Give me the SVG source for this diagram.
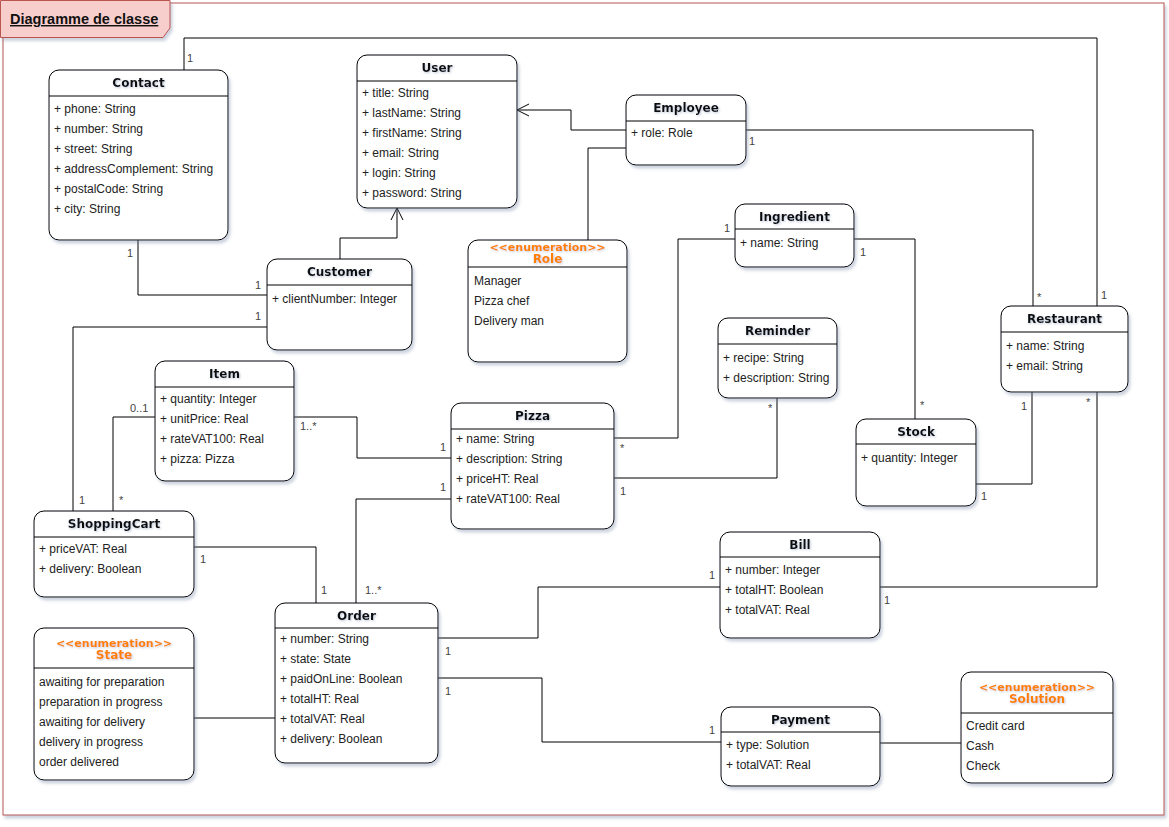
<svg xmlns="http://www.w3.org/2000/svg" width="1169" height="827" viewBox="0 0 1169 827">
<style>
.box{fill:#fff;stroke:#000;stroke-width:1}
.hl{stroke:#000;stroke-width:1}
.hd{font-family:"DejaVu Sans",Verdana,sans-serif;font-weight:bold;font-size:12px;text-anchor:middle;fill:#111}
.at{font-family:"Liberation Sans",Arial,sans-serif;font-size:12px;fill:#222}
.st{font-family:"DejaVu Sans",Verdana,sans-serif;font-weight:bold;font-size:11px;text-anchor:middle;fill:#FF8000}
.sn{font-family:"DejaVu Sans",Verdana,sans-serif;font-weight:bold;font-size:12px;text-anchor:middle;fill:#FF8000}
.lb{font-family:"Liberation Sans",Arial,sans-serif;font-size:11px;fill:#444}
.cn{fill:none;stroke:#000;stroke-width:1}
</style>
<defs>
<filter id="sh" x="-10%" y="-10%" width="130%" height="130%">
<feDropShadow dx="2" dy="3" stdDeviation="1.5" flood-color="#6f7f9f" flood-opacity="0.35"/>
</filter>
<filter id="tg" x="-10%" y="-30%" width="120%" height="160%">
<feDropShadow dx="1" dy="1" stdDeviation="1.2" flood-color="#8090b0" flood-opacity="0.5"/>
</filter>
<marker id="oa" viewBox="0 0 14 14" refX="13" refY="7" markerWidth="14" markerHeight="14" markerUnits="userSpaceOnUse" orient="auto">
<path d="M1,1 L13,7 L1,13" fill="none" stroke="#000" stroke-width="1"/>
</marker>
</defs>
<rect x="0" y="0" width="1169" height="827" fill="#fff"/>
<g id="frame">
<rect x="3" y="3" width="1161" height="812" fill="#fff" stroke="#b85450" stroke-width="1" filter="url(#sh)"/>
<path d="M0.5,0.5 H170 V28 L163,37.5 H0.5 Z" fill="#f8cecc" stroke="#b85450" stroke-width="1" filter="url(#sh)"/>
<text x="10" y="24" font-family="Liberation Sans,Arial,sans-serif" font-weight="bold" font-size="14.5" text-decoration="underline" fill="#111">Diagramme de classe</text>
</g>
<g id="connectors">
<path class="cn" d="M184,70 V38 H1097 V306"/>
<text class="lb" x="187" y="62">1</text>
<text class="lb" x="1101" y="299">1</text>
<path class="cn" d="M138,240 V295 H267"/>
<text class="lb" x="127" y="257">1</text>
<text class="lb" x="255" y="289">1</text>
<path class="cn" d="M340,259 V238 H397 V208" marker-end="url(#oa)"/>
<path class="cn" d="M626,130 H571 V110 H517" marker-end="url(#oa)"/>
<path class="cn" d="M626,148 H588 V240"/>
<path class="cn" d="M746,130 H1033 V306"/>
<text class="lb" x="749" y="145">1</text>
<text class="lb" x="1037" y="301">*</text>
<path class="cn" d="M267,327 H73 V511"/>
<text class="lb" x="255" y="320">1</text>
<text class="lb" x="79" y="504">1</text>
<path class="cn" d="M155,417 H113 V511"/>
<text class="lb" x="130" y="412">0..1</text>
<text class="lb" x="119" y="504">*</text>
<path class="cn" d="M294,417 H357 V458 H451"/>
<text class="lb" x="300" y="430">1..*</text>
<text class="lb" x="440" y="451">1</text>
<path class="cn" d="M451,499 H356 V603"/>
<text class="lb" x="440" y="491">1</text>
<text class="lb" x="365" y="594">1..*</text>
<path class="cn" d="M194,547 H316 V603"/>
<text class="lb" x="200" y="563">1</text>
<text class="lb" x="321" y="594">1</text>
<path class="cn" d="M194,718 H275"/>
<path class="cn" d="M438,638 H538 V587 H720"/>
<text class="lb" x="445" y="655">1</text>
<text class="lb" x="709" y="579">1</text>
<path class="cn" d="M438,678 H542 V742 H721"/>
<text class="lb" x="445" y="695">1</text>
<text class="lb" x="709" y="734">1</text>
<path class="cn" d="M880,743 H961"/>
<path class="cn" d="M880,587 H1097 V392"/>
<text class="lb" x="884" y="604">1</text>
<text class="lb" x="1086" y="406">*</text>
<path class="cn" d="M976,484 H1032 V392"/>
<text class="lb" x="981" y="500">1</text>
<text class="lb" x="1021" y="410">1</text>
<path class="cn" d="M854,239 H915 V419"/>
<text class="lb" x="860" y="256">1</text>
<text class="lb" x="920" y="409">*</text>
<path class="cn" d="M735,239 H678 V438 H614"/>
<text class="lb" x="724" y="232">1</text>
<text class="lb" x="620" y="452">*</text>
<path class="cn" d="M777,398 V478 H614"/>
<text class="lb" x="768" y="412">*</text>
<text class="lb" x="620" y="495">1</text>
</g>
<g id="Contact">
<rect class="box" x="49" y="70" width="179" height="170" rx="10" filter="url(#sh)"/>
<line class="hl" x1="49" y1="96" x2="228" y2="96"/>
<text class="hd" x="138.5" y="87" filter="url(#tg)">Contact</text>
<text class="at" x="54" y="113">+ phone: String</text>
<text class="at" x="54" y="133">+ number: String</text>
<text class="at" x="54" y="153">+ street: String</text>
<text class="at" x="54" y="173">+ addressComplement: String</text>
<text class="at" x="54" y="193">+ postalCode: String</text>
<text class="at" x="54" y="213">+ city: String</text>
</g>
<g id="User">
<rect class="box" x="357" y="55" width="160" height="153" rx="10" filter="url(#sh)"/>
<line class="hl" x1="357" y1="81" x2="517" y2="81"/>
<text class="hd" x="437" y="72" filter="url(#tg)">User</text>
<text class="at" x="362" y="97">+ title: String</text>
<text class="at" x="362" y="117">+ lastName: String</text>
<text class="at" x="362" y="137">+ firstName: String</text>
<text class="at" x="362" y="157">+ email: String</text>
<text class="at" x="362" y="177">+ login: String</text>
<text class="at" x="362" y="197">+ password: String</text>
</g>
<g id="Employee">
<rect class="box" x="626" y="95" width="120" height="70" rx="10" filter="url(#sh)"/>
<line class="hl" x1="626" y1="121" x2="746" y2="121"/>
<text class="hd" x="686" y="112" filter="url(#tg)">Employee</text>
<text class="at" x="631" y="137">+ role: Role</text>
</g>
<g id="Role">
<rect class="box" x="468" y="240" width="159" height="122" rx="10" filter="url(#sh)"/>
<line class="hl" x1="468" y1="267" x2="627" y2="267"/>
<text class="st" x="547.5" y="251" filter="url(#tg)">&lt;&lt;enumeration&gt;&gt;</text>
<text class="sn" x="547.5" y="263" filter="url(#tg)">Role</text>
<text class="at" x="474" y="285">Manager</text>
<text class="at" x="474" y="305">Pizza chef</text>
<text class="at" x="474" y="325">Delivery man</text>
</g>
<g id="Customer">
<rect class="box" x="267" y="259" width="145" height="91" rx="10" filter="url(#sh)"/>
<line class="hl" x1="267" y1="285" x2="412" y2="285"/>
<text class="hd" x="339.5" y="276" filter="url(#tg)">Customer</text>
<text class="at" x="272" y="303">+ clientNumber: Integer</text>
</g>
<g id="Ingredient">
<rect class="box" x="735" y="204" width="119" height="63" rx="10" filter="url(#sh)"/>
<line class="hl" x1="735" y1="229" x2="854" y2="229"/>
<text class="hd" x="794.5" y="221" filter="url(#tg)">Ingredient</text>
<text class="at" x="740" y="247">+ name: String</text>
</g>
<g id="Reminder">
<rect class="box" x="718" y="318" width="119" height="80" rx="10" filter="url(#sh)"/>
<line class="hl" x1="718" y1="344" x2="837" y2="344"/>
<text class="hd" x="777.5" y="335" filter="url(#tg)">Reminder</text>
<text class="at" x="723" y="362">+ recipe: String</text>
<text class="at" x="723" y="382">+ description: String</text>
</g>
<g id="Restaurant">
<rect class="box" x="1001" y="306" width="127" height="86" rx="10" filter="url(#sh)"/>
<line class="hl" x1="1001" y1="332" x2="1128" y2="332"/>
<text class="hd" x="1064.5" y="323" filter="url(#tg)">Restaurant</text>
<text class="at" x="1006" y="350">+ name: String</text>
<text class="at" x="1006" y="370">+ email: String</text>
</g>
<g id="Stock">
<rect class="box" x="856" y="419" width="120" height="87" rx="10" filter="url(#sh)"/>
<line class="hl" x1="856" y1="444" x2="976" y2="444"/>
<text class="hd" x="916" y="436" filter="url(#tg)">Stock</text>
<text class="at" x="861" y="462">+ quantity: Integer</text>
</g>
<g id="Item">
<rect class="box" x="155" y="361" width="139" height="120" rx="10" filter="url(#sh)"/>
<line class="hl" x1="155" y1="387" x2="294" y2="387"/>
<text class="hd" x="224.5" y="378" filter="url(#tg)">Item</text>
<text class="at" x="160" y="403">+ quantity: Integer</text>
<text class="at" x="160" y="423">+ unitPrice: Real</text>
<text class="at" x="160" y="443">+ rateVAT100: Real</text>
<text class="at" x="160" y="463">+ pizza: Pizza</text>
</g>
<g id="Pizza">
<rect class="box" x="451" y="403" width="163" height="126" rx="10" filter="url(#sh)"/>
<line class="hl" x1="451" y1="429" x2="614" y2="429"/>
<text class="hd" x="532.5" y="420" filter="url(#tg)">Pizza</text>
<text class="at" x="456" y="443">+ name: String</text>
<text class="at" x="456" y="463">+ description: String</text>
<text class="at" x="456" y="483">+ priceHT: Real</text>
<text class="at" x="456" y="503">+ rateVAT100: Real</text>
</g>
<g id="ShoppingCart">
<rect class="box" x="34" y="511" width="160" height="86" rx="10" filter="url(#sh)"/>
<line class="hl" x1="34" y1="537" x2="194" y2="537"/>
<text class="hd" x="114" y="528" filter="url(#tg)">ShoppingCart</text>
<text class="at" x="39" y="553">+ priceVAT: Real</text>
<text class="at" x="39" y="573">+ delivery: Boolean</text>
</g>
<g id="Bill">
<rect class="box" x="720" y="532" width="160" height="106" rx="10" filter="url(#sh)"/>
<line class="hl" x1="720" y1="557" x2="880" y2="557"/>
<text class="hd" x="800" y="549" filter="url(#tg)">Bill</text>
<text class="at" x="725" y="574">+ number: Integer</text>
<text class="at" x="725" y="594">+ totalHT: Boolean</text>
<text class="at" x="725" y="614">+ totalVAT: Real</text>
</g>
<g id="Order">
<rect class="box" x="275" y="603" width="163" height="160" rx="10" filter="url(#sh)"/>
<line class="hl" x1="275" y1="628" x2="438" y2="628"/>
<text class="hd" x="356.5" y="620" filter="url(#tg)">Order</text>
<text class="at" x="280" y="643">+ number: String</text>
<text class="at" x="280" y="663">+ state: State</text>
<text class="at" x="280" y="683">+ paidOnLine: Boolean</text>
<text class="at" x="280" y="703">+ totalHT: Real</text>
<text class="at" x="280" y="723">+ totalVAT: Real</text>
<text class="at" x="280" y="743">+ delivery: Boolean</text>
</g>
<g id="State">
<rect class="box" x="34" y="628" width="160" height="152" rx="10" filter="url(#sh)"/>
<line class="hl" x1="34" y1="668" x2="194" y2="668"/>
<text class="st" x="114" y="647" filter="url(#tg)">&lt;&lt;enumeration&gt;&gt;</text>
<text class="sn" x="114" y="659" filter="url(#tg)">State</text>
<text class="at" x="39" y="686">awaiting for preparation</text>
<text class="at" x="39" y="706">preparation in progress</text>
<text class="at" x="39" y="726">awaiting for delivery</text>
<text class="at" x="39" y="746">delivery in progress</text>
<text class="at" x="39" y="766">order delivered</text>
</g>
<g id="Payment">
<rect class="box" x="721" y="707" width="159" height="79" rx="10" filter="url(#sh)"/>
<line class="hl" x1="721" y1="732" x2="880" y2="732"/>
<text class="hd" x="800.5" y="724" filter="url(#tg)">Payment</text>
<text class="at" x="726" y="749">+ type: Solution</text>
<text class="at" x="726" y="769">+ totalVAT: Real</text>
</g>
<g id="Solution">
<rect class="box" x="961" y="672" width="152" height="111" rx="10" filter="url(#sh)"/>
<line class="hl" x1="961" y1="713" x2="1113" y2="713"/>
<text class="st" x="1037" y="691" filter="url(#tg)">&lt;&lt;enumeration&gt;&gt;</text>
<text class="sn" x="1037" y="703" filter="url(#tg)">Solution</text>
<text class="at" x="966" y="730">Credit card</text>
<text class="at" x="966" y="750">Cash</text>
<text class="at" x="966" y="770">Check</text>
</g>
</svg>
